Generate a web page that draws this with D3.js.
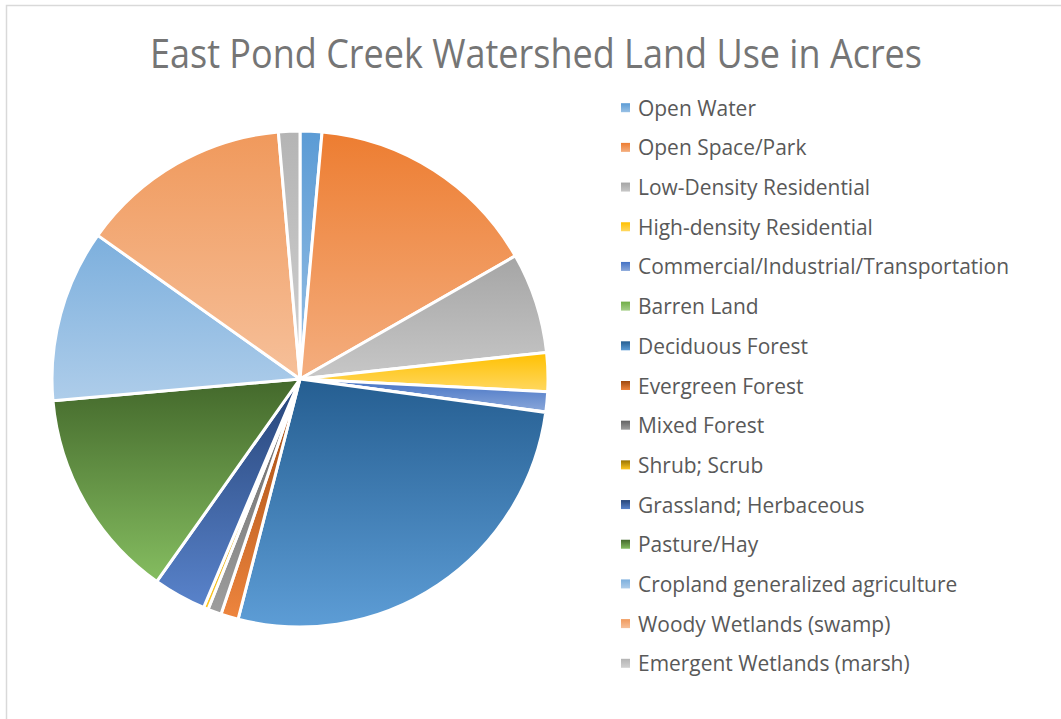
<!DOCTYPE html>
<html>
<head>
<meta charset="utf-8">
<script src="https://cdn.jsdelivr.net/npm/d3@7"></script>
<style>
  html, body { margin: 0; padding: 0; background: #fff; }
  svg { display: block; }
</style>
</head>
<body>
<svg id="chart"></svg>
<script>
const chartTitle = "East Pond Creek Watershed Land Use in Acres"

const categories = [
  "Open Water",
  "Open Space/Park",
  "Low-Density Residential",
  "High-density Residential",
  "Commercial/Industrial/Transportation",
  "Barren Land",
  "Deciduous Forest",
  "Evergreen Forest",
  "Mixed Forest",
  "Shrub; Scrub",
  "Grassland; Herbaceous",
  "Pasture/Hay",
  "Cropland generalized agriculture",
  "Woody Wetlands (swamp)",
  "Emergent Wetlands (marsh)"
]

const acres = [142, 1531, 656, 253, 130, 3, 2686, 114, 89, 31, 344, 1381, 1122, 1378, 139]

// top colour of each slice gradient (Office palette)
const colors = [
  "#5b9bd5", "#ed7d31", "#a5a5a5", "#ffc000", "#4472c4", "#70ad47",
  "#255e91", "#9e480e", "#636363", "#997300", "#264478", "#43682b",
  "#7cafdd", "#f0995c", "#b4b4b4"
]

const width = 1061, height = 719
const cx = 300, cy = 379, radius = 248

const svg = d3.select("#chart").attr("width", width).attr("height", height)

// outer chart border (runs off the right and bottom edges)
svg.append("rect")
  .attr("x", 6.5).attr("y", 5.5)
  .attr("width", width + 10).attr("height", height + 10)
  .attr("fill", "none").attr("stroke", "#d9d9d9").attr("stroke-width", 1.5)

//one vertical gradient per series, lighter towards the bottom
function lighten(c){
  const h = d3.hsl(c)
  h.l = h.l + (1 - h.l) * 0.38
  return h.formatHex()
}
const defs = svg.append("defs")
colors.forEach((c, i) => {
  const g = defs.append("linearGradient").attr("id", "grad" + i)
    .attr("x1", 0).attr("y1", 0).attr("x2", 0).attr("y2", 1)
  g.append("stop").attr("offset", 0).attr("stop-color", c)
  g.append("stop").attr("offset", 1).attr("stop-color", lighten(c))
})

// title
const titleText = svg.append("text")
  .attr("x", 536).attr("y", 68)
  .attr("text-anchor", "middle")
  .style("font-family", "'Open Sans', sans-serif")
  .style("font-size", "40px")
  .attr("fill", "#757575")
  .text(chartTitle)
const tw = titleText.node().getComputedTextLength()
titleText.attr("textLength", 772).attr("lengthAdjust", "spacingAndGlyphs")

// pie
const data = categories.map((c, i) => ({name: c, value: acres[i], idx: i}))
const pie = d3.pie().sort(null).value(d => d.value)
const arc = d3.arc().innerRadius(0).outerRadius(radius)

svg.append("g").attr("transform", "translate(" + cx + "," + cy + ")")
  .selectAll("path").data(pie(data)).enter().append("path")
    .attr("d", arc)
    .attr("fill", d => "url(#grad" + d.data.idx + ")")
    .attr("stroke", "#fff")
    .attr("stroke-width", 3)
    .attr("stroke-linejoin", "round")

// legend
const legendY = d3.scalePoint().domain(categories).range([107.7, 663.3])
const legend = svg.append("g")
const rows = legend.selectAll("g").data(data).enter().append("g")
  .attr("transform", d => "translate(621," + legendY(d.name) + ")")
rows.append("rect")
  .attr("x", 0).attr("y", -4.5).attr("width", 9).attr("height", 9)
  .attr("fill", d => "url(#grad" + d.idx + ")")
const labels = rows.append("text")
  .attr("x", 17).attr("y", 8)
  .style("font-family", "'Open Sans', sans-serif")
  .style("font-size", "22.5px")
  .attr("fill", "#595959")
  .text(d => d.name)

let longest = 0
labels.each(function(){ longest = Math.max(longest, this.getComputedTextLength()) })
const squeeze = 371 / longest
labels.each(function(){
  const w = this.getComputedTextLength()
  d3.select(this).attr("textLength", w * squeeze).attr("lengthAdjust", "spacingAndGlyphs")
})
</script>
</body>
</html>
